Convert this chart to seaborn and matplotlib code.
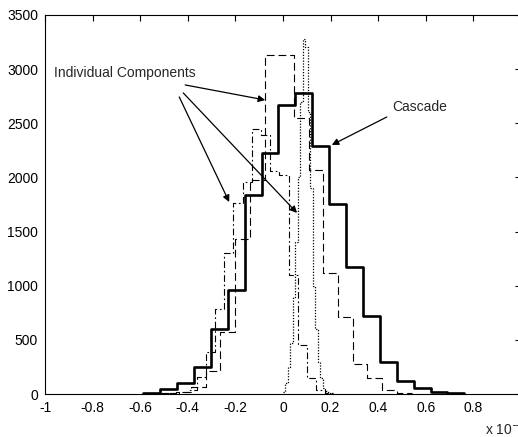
import matplotlib
matplotlib.use("Agg")
import matplotlib.pyplot as plt
import numpy as np
import pandas as pd
import seaborn as sns

# bin edges and counts
cascade_edges = [-0.587, -0.516, -0.445, -0.374, -0.303, -0.232, -0.161, -0.090, -0.019,
                 0.052, 0.123, 0.194, 0.265, 0.336, 0.407, 0.478, 0.549, 0.620, 0.691, 0.762]
cascade_counts = [10, 45, 100, 250, 600, 965, 1840, 2225, 2670, 2780, 2290, 1755, 1170,
                  720, 295, 120, 55, 20, 10]

dashed_edges = [-0.511, -0.449, -0.387, -0.325, -0.263, -0.201, -0.139, -0.077, -0.016,
                0.046, 0.108, 0.169, 0.231, 0.293, 0.354, 0.416, 0.478, 0.540]
dashed_counts = [5, 20, 65, 210, 570, 1430, 1980, 3130, 3130, 2550, 2070, 1120, 710,
                 280, 150, 40, 10]

dashdot_edges = [-0.478, -0.439, -0.401, -0.362, -0.324, -0.285, -0.246, -0.208, -0.169,
                 -0.131, -0.092, -0.053, -0.015, 0.024, 0.062, 0.101, 0.139, 0.178, 0.217]
dashdot_counts = [5, 15, 40, 160, 390, 785, 1300, 1760, 1960, 2450, 2390, 2060, 2020,
                  1100, 450, 150, 40, 10]

dotted_edges = [0.0, 0.0105, 0.021, 0.0315, 0.042, 0.0525, 0.063, 0.0735, 0.084, 0.0945,
                0.105, 0.1155, 0.126, 0.1365, 0.147, 0.1575, 0.168, 0.1785, 0.189, 0.1995, 0.21]
dotted_counts = [20, 100, 250, 470, 900, 1400, 2000, 2700, 3280, 3200, 2600, 1900, 1000,
                 600, 300, 150, 60, 25, 10, 5]

x_ticks = [-1, -0.8, -0.6, -0.4, -0.2, 0, 0.2, 0.4, 0.6, 0.8]
x_labels = ["-1", "-0.8", "-0.6", "-0.4", "-0.2", "0", "0.2", "0.4", "0.6", "0.8"]
y_ticks = [0, 500, 1000, 1500, 2000, 2500, 3000, 3500]

sns.set_style("white")
plt.rcParams["font.family"] = ["Liberation Sans", "DejaVu Sans"]

fig = plt.figure(figsize=(5.18, 4.37), dpi=100)
# right edge of the box falls just outside the picture, like the original crop
ax = fig.add_axes([45 / 518, 43 / 437, 476 / 518, 379 / 437])


def step_hist(edges, counts, **style):
    e = np.asarray(edges)
    df = pd.DataFrame({"x": (e[:-1] + e[1:]) / 2, "w": counts})
    sns.histplot(data=df, x="x", weights="w", bins=list(edges), element="step",
                 fill=False, color="black", ax=ax, **style)


step_hist(dotted_edges, dotted_counts, linewidth=0.9, linestyle=(0, (1, 1.3)))
step_hist(dashdot_edges, dashdot_counts, linewidth=0.8, linestyle=(0, (6, 2.5, 1.5, 2.5)))
step_hist(dashed_edges, dashed_counts, linewidth=0.8, linestyle=(0, (7, 3.5)))
step_hist(cascade_edges, cascade_counts, linewidth=1.9, linestyle="-")

ax.set_xlim(-1, 1)
ax.set_ylim(0, 3500)
ax.set_xticks(x_ticks)
ax.set_xticklabels(x_labels)
ax.set_yticks(y_ticks)
ax.set_xlabel("")
ax.set_ylabel("")
ax.tick_params(direction="in", length=4, width=0.8, top=True, right=True,
               labelsize=10, pad=5, colors="black")
for s in ax.spines.values():
    s.set_linewidth(0.8)
    s.set_color("black")

arrow = dict(arrowstyle="-|>", color="black", lw=0.9, mutation_scale=10, shrinkA=0, shrinkB=0)
ax.text(-0.964, 2964, "Individual Components", fontsize=10, ha="left", va="center")
ax.annotate("", xy=(-0.075, 2715), xytext=(-0.411, 2854), arrowprops=arrow)
ax.annotate("", xy=(0.059, 1672), xytext=(-0.419, 2780), arrowprops=arrow)
ax.annotate("", xy=(-0.226, 1773), xytext=(-0.436, 2743), arrowprops=arrow)

ax.text(0.461, 2650, "Cascade", fontsize=10, ha="left", va="center")
ax.annotate("", xy=(0.205, 2300), xytext=(0.436, 2558), arrowprops=arrow)

fig.text(485 / 518, 1 - 435 / 437, r"x 10$^{-6}$", fontsize=10, ha="left", va="baseline")

fig.savefig("out.png", dpi=100)
